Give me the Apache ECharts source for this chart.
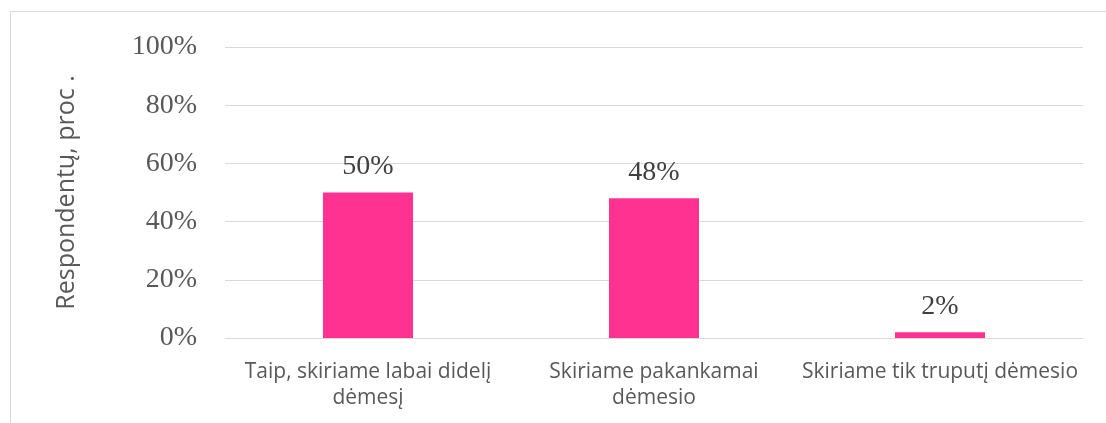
<!DOCTYPE html>
<html>
<head>
<meta charset="utf-8">
<script src="https://cdn.jsdelivr.net/npm/echarts@6/dist/echarts.min.js"></script>
<style>
  html, body { margin: 0; padding: 0; background: #fff; }
  #chart { width: 1106px; height: 423px; }
</style>
</head>
<body>
<div id="chart"></div>
<script>
// Answer categories and share of respondents (%)
const categories = [
  'Taip, skiriame labai didelį\ndėmesį',
  'Skiriame pakankamai\ndėmesio',
  'Skiriame tik truputį dėmesio'
];
const shares = [50, 48, 2];
const axisTitle = 'Respondentų, proc .';

const chart = echarts.init(document.getElementById('chart'));
chart.setOption({
  animation: false,
  backgroundColor: '#ffffff',
  graphic: [{
    type: 'rect',
    shape: { x: 10.5, y: 11.5, width: 1200, height: 500 },
    style: { fill: 'none', stroke: '#d9d9d9', lineWidth: 1 },
    silent: true
  }],
  grid: { left: 225, right: 23, top: 47, bottom: 85 },
  xAxis: {
    type: 'category',
    data: categories,
    axisLine: { show: true, lineStyle: { color: '#d9d9d9', width: 1 } },
    axisTick: { show: false },
    axisLabel: {
      interval: 0,
      margin: 21,
      lineHeight: 26,
      fontFamily: 'Open Sans',
      fontSize: 21,
      color: '#595959'
    }
  },
  yAxis: {
    type: 'value',
    min: 0,
    max: 100,
    interval: 20,
    name: axisTitle,
    nameLocation: 'middle',
    nameGap: 146,
    nameTextStyle: { fontFamily: 'Open Sans', fontSize: 25, color: '#595959' },
    axisLine: { show: false },
    axisTick: { show: false },
    splitLine: { lineStyle: { color: '#d9d9d9', width: 1 } },
    axisLabel: {
      margin: 28,
      formatter: '{value}%',
      fontFamily: 'Liberation Serif',
      fontSize: 28,
      color: '#595959'
    }
  },
  series: [{
    type: 'bar',
    data: shares,
    barWidth: 90,
    itemStyle: { color: '#ff3191' },
    label: {
      show: true,
      position: 'top',
      distance: 12,
      formatter: '{c}%',
      fontFamily: 'Liberation Serif',
      fontSize: 28,
      color: '#404040'
    }
  }]
});
</script>
</body>
</html>
